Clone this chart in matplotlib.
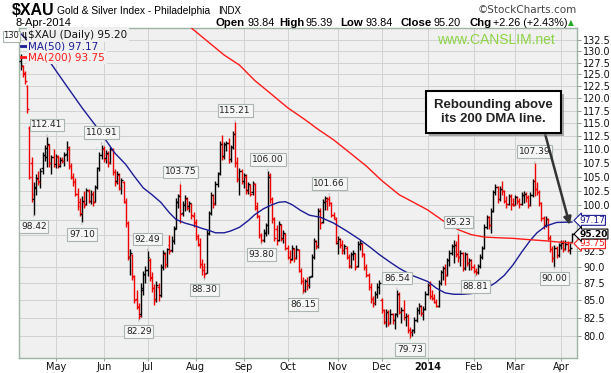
import matplotlib
matplotlib.use("Agg")
import matplotlib.pyplot as plt
import matplotlib.patheffects as pe
import numpy as np

# daily OHLC of $XAU, 9-Apr-2013 .. 8-Apr-2014 (one row per month)
opens = [
    128.0, 126.8, 125.2, 122.5, 114.0, 107.5, 101.0, 103.0, 104.5, 104.2, 106.5, 109.0, 108.5, 110.8, 107.5, 108.5,
    107.2, 108.5, 107.0, 108.2, 107.8, 109.2, 110.0, 107.0, 105.0, 104.2, 102.0, 100.5, 98.5, 100.6, 100.2, 102.4, 100.8, 102.0, 100.6, 103.2, 106.5, 109.0,
    110.0, 108.4, 109.2, 107.6, 109.8, 105.8, 104.2, 105.2, 103.0, 104.0, 100.6, 97.0, 91.5, 91.8, 88.4, 85.2, 84.0, 83.0, 86.6, 88.8,
    89.5, 91.0, 88.5, 86.8, 85.2, 87.0, 85.8, 90.0, 92.0, 90.5, 93.5, 92.6, 94.0, 96.2, 100.5, 101.8, 98.6, 100.0, 101.0, 99.8, 100.2, 98.2,
    97.2, 94.8, 93.4, 90.5, 90.0, 89.0, 95.4, 98.6, 101.8, 100.4, 103.6, 105.6, 111.0, 108.8, 110.8, 111.2, 108.2, 110.4, 113.0, 107.6, 104.6, 106.0,
    104.2, 105.0, 102.6, 103.4, 102.2, 103.6, 99.8, 98.2, 95.0, 94.2, 95.4, 96.6, 105.2, 101.0, 97.8, 96.0, 94.2, 96.6, 94.6, 95.2,
    93.0, 91.6, 91.2, 92.8, 91.4, 92.6, 89.4, 87.8, 86.6, 87.8, 87.2, 88.6, 91.6, 94.0, 93.2, 99.2, 97.2, 100.6, 100.8, 101.0, 100.4, 98.4, 97.6,
    93.8, 94.4, 93.6, 92.6, 93.0, 91.6, 90.2, 92.0, 92.0, 90.2, 93.6, 93.6, 92.0, 90.0, 88.8, 87.0, 85.2, 84.6, 86.0, 87.0,
    85.0, 83.6, 82.0, 83.4, 81.8, 83.0, 82.2, 83.0, 86.0, 83.4, 83.6, 82.6, 82.8, 80.8, 80.6, 80.8, 82.2, 83.6, 84.2, 83.2, 83.8,
    86.0, 87.2, 85.6, 85.4, 84.8, 84.2, 87.6, 89.2, 89.8, 88.8, 91.0, 92.2, 93.2, 93.4, 92.0, 91.6, 92.2, 89.8, 92.0, 90.6, 91.0,
    90.0, 89.4, 89.2, 90.2, 91.6, 93.0, 96.4, 98.0, 96.6, 99.0, 102.2, 103.2, 101.0, 102.8, 102.4, 100.8, 100.2, 101.6, 100.2,
    100.0, 101.4, 100.8, 100.2, 101.8, 102.0, 101.4, 100.0, 101.8, 104.2, 102.8, 102.2, 100.4, 97.8, 96.6, 97.6, 94.6, 92.8, 91.4, 93.0, 91.8,
    93.4, 93.8, 92.8, 93.6, 92.6, 93.84,
]
highs = [
    129.5, 127.0, 125.8, 122.8, 114.4, 108.5, 104.0, 105.5, 106.0, 106.5, 109.5, 110.8, 112.41, 111.0, 109.0, 110.0,
    109.2, 109.0, 108.5, 108.6, 109.5, 111.6, 110.6, 107.4, 105.6, 104.8, 103.0, 101.2, 101.5, 102.5, 103.0, 102.8, 102.6, 102.4, 103.5, 106.8, 109.5, 110.91,
    110.6, 109.8, 109.6, 110.5, 110.2, 106.4, 106.0, 105.6, 104.8, 104.2, 101.2, 97.4, 92.8, 92.0, 88.8, 86.6, 84.6, 87.5, 89.4, 90.2,
    92.49, 91.4, 89.2, 87.4, 87.8, 87.6, 90.5, 92.6, 92.4, 93.0, 95.1, 94.8, 96.5, 101.2, 102.0, 103.75, 100.8, 101.8, 101.4, 100.8, 100.4, 98.8,
    97.6, 95.2, 94.6, 91.2, 90.6, 95.8, 99.0, 102.2, 102.0, 104.2, 105.8, 111.6, 112.8, 111.4, 111.6, 112.2, 110.8, 113.4, 115.21, 108.6, 106.6, 106.4,
    105.6, 105.4, 104.0, 103.6, 104.2, 103.8, 100.6, 98.4, 95.4, 96.0, 97.0, 106.00, 105.6, 101.4, 98.0, 96.6, 97.4, 96.8, 95.8, 95.4,
    93.4, 92.6, 93.4, 93.0, 93.4, 92.8, 89.8, 88.4, 88.2, 88.4, 88.6, 92.0, 94.6, 94.2, 99.6, 99.6, 101.0, 101.6, 101.4, 101.66, 100.6, 98.8, 98.0,
    94.8, 94.6, 94.2, 93.6, 93.2, 92.0, 92.4, 92.6, 92.2, 94.0, 94.2, 93.8, 92.2, 90.4, 89.0, 87.6, 85.6, 86.4, 87.6, 88.0,
    85.4, 83.8, 83.8, 83.6, 83.8, 83.2, 83.2, 86.54, 86.2, 84.0, 85.0, 83.2, 83.0, 81.2, 81.0, 82.6, 84.0, 84.6, 84.4, 84.2, 86.4,
    87.6, 87.8, 86.6, 86.0, 85.2, 88.0, 89.6, 90.2, 90.4, 91.4, 92.6, 93.6, 94.2, 94.0, 95.23, 92.6, 92.4, 92.4, 92.2, 91.4, 91.2,
    90.4, 89.8, 90.4, 92.0, 93.2, 96.8, 98.4, 98.2, 99.6, 102.6, 103.6, 103.4, 103.4, 104.2, 102.6, 101.6, 102.0, 102.0, 101.2,
    101.8, 101.6, 101.2, 102.2, 102.4, 102.2, 101.8, 102.2, 104.6, 107.39, 104.0, 102.6, 100.6, 98.2, 98.2, 97.8, 95.0, 93.2, 93.4, 93.2, 93.8,
    94.2, 94.2, 94.2, 94.0, 93.8, 95.39,
]
lows = [
    126.0, 124.5, 123.0, 117.0, 104.5, 100.5, 98.42, 101.8, 103.5, 103.0, 105.5, 107.8, 106.8, 106.8, 105.5, 106.8,
    106.5, 106.6, 106.8, 107.4, 107.0, 107.8, 106.4, 104.6, 103.4, 101.5, 99.2, 98.2, 97.10, 99.6, 100.0, 100.4, 100.2, 99.8, 100.5, 102.8, 106.0, 108.2,
    107.6, 107.5, 106.8, 107.2, 105.2, 103.4, 103.6, 102.6, 102.0, 100.4, 96.4, 91.0, 88.8, 88.0, 84.6, 83.8, 82.29, 82.6, 85.8, 87.6,
    88.6, 87.8, 86.2, 84.4, 84.8, 84.9, 85.5, 89.6, 89.8, 90.0, 92.0, 92.4, 93.6, 96.0, 99.6, 97.0, 98.2, 99.0, 99.2, 98.8, 97.6, 96.4,
    94.2, 93.2, 89.8, 88.8, 88.30, 89.0, 95.0, 98.4, 99.6, 100.0, 103.2, 105.2, 108.0, 108.2, 109.6, 107.4, 107.6, 110.0, 106.8, 104.0, 101.8, 103.6,
    103.0, 102.0, 102.0, 101.6, 101.8, 99.2, 97.8, 94.6, 93.80, 93.9, 94.8, 95.2, 100.4, 97.0, 94.0, 93.5, 94.0, 94.0, 93.8, 92.6,
    91.2, 90.6, 91.0, 90.8, 91.2, 89.2, 87.4, 86.15, 86.2, 86.6, 86.8, 88.4, 91.2, 92.8, 93.0, 96.0, 97.0, 99.2, 99.2, 99.8, 98.0, 97.6, 93.6,
    92.0, 93.0, 92.0, 92.0, 91.2, 89.8, 89.8, 91.0, 89.6, 90.0, 92.6, 91.6, 89.6, 88.4, 86.6, 84.6, 84.0, 84.4, 85.4, 86.0,
    83.2, 81.6, 81.2, 81.4, 81.6, 81.6, 81.0, 82.6, 83.0, 81.8, 82.2, 81.4, 80.4, 79.73, 80.0, 80.4, 82.0, 83.0, 82.8, 82.2, 83.6,
    85.8, 85.2, 85.0, 84.6, 84.0, 84.0, 87.2, 88.0, 87.2, 88.6, 90.2, 91.8, 90.6, 91.6, 90.8, 90.2, 89.4, 89.6, 90.2, 89.6, 89.6,
    89.0, 88.81, 88.9, 89.8, 91.2, 92.8, 96.0, 96.0, 95.4, 98.8, 101.8, 100.4, 100.8, 101.8, 100.4, 99.6, 100.0, 99.2, 99.8,
    100.0, 100.2, 99.6, 100.0, 100.4, 100.6, 99.6, 99.8, 101.4, 101.6, 101.8, 99.8, 97.4, 96.0, 96.4, 94.2, 92.4, 90.8, 90.00, 91.4, 91.6,
    92.8, 92.4, 92.6, 92.4, 92.0, 93.84,
]
closes = [
    127.0, 125.0, 123.6, 117.8, 105.0, 102.0, 103.2, 104.8, 104.0, 106.0, 109.0, 110.2, 111.0, 107.5, 108.5, 107.0,
    108.8, 107.2, 108.0, 107.9, 109.0, 110.5, 107.0, 105.0, 104.0, 102.0, 99.8, 98.6, 100.8, 100.0, 102.6, 100.8, 102.0, 100.5, 103.2, 106.5, 109.0, 110.2,
    108.2, 109.4, 107.5, 110.0, 105.8, 104.0, 105.4, 103.0, 104.4, 100.8, 97.0, 91.5, 92.2, 88.6, 85.0, 84.2, 82.8, 86.8, 88.9, 89.6,
    91.5, 88.3, 86.8, 85.0, 87.3, 85.6, 90.0, 92.2, 90.4, 92.8, 92.5, 94.2, 96.0, 100.5, 101.6, 98.5, 100.2, 101.2, 99.6, 100.4, 98.4, 97.0,
    94.6, 93.6, 90.4, 89.6, 88.9, 95.2, 98.6, 101.8, 100.2, 103.6, 105.4, 111.0, 108.6, 111.0, 111.2, 108.0, 110.4, 113.0, 107.5, 104.6, 106.0, 104.0,
    105.2, 102.5, 103.6, 102.0, 103.8, 99.6, 98.2, 95.0, 94.2, 95.6, 96.6, 105.0, 101.0, 97.6, 94.6, 94.0, 96.8, 94.4, 95.4, 93.0,
    91.6, 91.0, 93.0, 91.4, 92.8, 89.6, 87.8, 86.6, 87.8, 87.2, 88.4, 91.6, 94.0, 93.2, 99.0, 97.0, 100.6, 101.2, 101.0, 100.4, 98.4, 98.0, 94.0,
    94.4, 93.4, 92.6, 93.2, 91.6, 90.2, 92.0, 92.2, 90.0, 93.6, 93.8, 92.0, 90.0, 88.8, 87.0, 85.2, 84.6, 86.0, 87.0, 87.6,
    83.6, 82.0, 83.4, 81.8, 83.0, 82.2, 83.0, 86.0, 83.4, 83.6, 82.6, 82.8, 80.8, 80.6, 80.8, 82.2, 83.6, 84.2, 83.2, 83.8, 86.0,
    87.2, 85.6, 85.4, 84.8, 84.2, 87.6, 89.2, 89.8, 88.8, 91.0, 92.2, 93.2, 93.4, 92.0, 91.6, 92.2, 89.8, 92.0, 90.6, 91.0, 90.0,
    89.4, 89.2, 90.2, 91.6, 93.0, 96.4, 98.0, 96.6, 99.0, 102.2, 103.2, 101.0, 102.8, 102.4, 100.8, 100.2, 101.6, 100.2, 100.0,
    101.4, 100.8, 100.2, 101.8, 102.0, 101.4, 100.0, 101.8, 104.2, 102.8, 102.2, 100.4, 97.8, 96.6, 97.6, 94.6, 92.8, 91.4, 93.0, 91.8, 93.4,
    93.8, 92.8, 93.6, 92.6, 92.94, 95.20,
]

# first trading day of each month (bar index) and its label
month_start = [16, 38, 58, 80, 102, 122, 145, 165, 186, 207, 226, 247]
month_names = ["May", "Jun", "Jul", "Aug", "Sep", "Oct", "Nov", "Dec", "2014", "Feb", "Mar", "Apr"]

# moving averages (bar index, value)
ma50_days = [0, 6, 13, 20, 28, 35, 43, 48, 52, 56, 60, 64, 68, 71, 75, 79, 83, 86, 89, 93, 96, 100,
             104, 107, 111, 115, 118, 121, 124, 128, 132, 137, 143, 149, 155, 160, 164, 169, 173, 179,
             186, 190, 194, 198, 202, 206, 209, 213, 217, 221, 225, 229, 233, 236, 240, 245, 252]
ma50_vals = [134.0, 131.0, 127.9, 123.2, 118.1, 114.1, 109.3, 107.2, 105.0, 103.0, 101.8, 100.5, 98.7,
             97.6, 97.0, 96.6, 96.1, 95.8, 95.4, 95.4, 95.7, 96.3, 97.4, 98.4, 99.4, 100.1, 100.5, 100.6,
             100.1, 99.1, 98.3, 97.96, 97.0, 95.7, 94.3, 93.0, 91.9, 90.7, 89.8, 88.7, 87.8, 86.8, 86.1,
             85.9, 85.9, 86.0, 86.2, 86.8, 87.6, 88.7, 90.3, 92.3, 94.2, 95.4, 96.5, 97.1, 97.17]
ma200_days = [60, 70, 78, 87, 93, 100, 107, 115, 122, 130, 136, 143, 150, 158, 165, 173, 180, 186, 193,
              200, 206, 212, 218, 225, 232, 240, 246, 252]
ma200_vals = [143.0, 138.8, 135.3, 131.6, 129.2, 127.0, 123.7, 120.7, 118.1, 115.7, 113.8, 111.8, 109.5,
              106.9, 104.3, 101.8, 100.4, 99.2, 97.4, 95.9, 95.1, 94.7, 94.6, 94.5, 94.3, 94.1, 93.9, 93.75]

# labelled swing highs / lows (bar index)
high_marks = [12, 37, 58, 73, 98, 113, 141, 172, 200, 235]
low_marks = [6, 28, 54, 84, 110, 129, 178, 208, 244]

W, H = 611, 373
BG = "#f0f0f0"
fig = plt.figure(figsize=(W / 100, H / 100), dpi=100)
fig.patch.set_facecolor("white")
ax = fig.add_axes([19 / W, 1 - 358 / H, 558 / W, 330 / H])
ax.set_facecolor(BG)


def fx(px):
    return px / W


def fy(py):
    return 1 - py / H


idx = np.arange(len(closes))
o = np.array(opens)
h = np.array(highs)
l = np.array(lows)
c = np.array(closes)
prev = np.concatenate([[c[0] - 1], c[:-1]])
cols = np.where(c < prev, "#ee0000", "#000000")

ax.set_yscale("log")
ax.set_ylim(77.05, 135.3)
ax.set_xlim(-0.8, 254.3)

# 95.0 and 97.5 sit under the last-value tags, as on the original
yt = np.arange(80, 133, 2.5)
ax.set_yticks(yt)
ax.set_yticks([], minor=True)
ax.set_yticklabels(["" if v in (95.0, 97.5) else f"{v:.1f}" for v in yt])
ax.yaxis.tick_right()
ax.set_xticks(month_start)
ax.set_xticklabels(month_names)
for t, name in zip(ax.get_xticklabels(), month_names):
    if name == "2014":
        t.set_fontweight("bold")
        t.set_fontsize(7.5)
ax.tick_params(axis="y", labelsize=7, length=3, width=0.6, color="#888888", pad=1.5, labelcolor="#111111")
ax.tick_params(axis="x", labelsize=7, length=2, width=0.6, color="#888888", pad=1, labelcolor="#111111")
ax.grid(True, color="#d2d2d2", lw=0.7)
ax.set_axisbelow(True)
for sp in ax.spines.values():
    sp.set_color("#9db3a5")
    sp.set_linewidth(1.0)

# price bars
ax.vlines(idx, l, h, colors=cols, lw=1.0, zorder=3)
ax.hlines(o, idx - 0.8, idx, colors=cols, lw=1.0, zorder=3)
ax.hlines(c, idx, idx + 0.8, colors=cols, lw=1.0, zorder=3)

ax.plot(ma50_days, ma50_vals, color="#1c1c96", lw=1.0, zorder=4)
ax.plot(ma200_days, ma200_vals, color="#ff1a1a", lw=1.0, zorder=4)

# swing labels
lab_box = dict(boxstyle="square,pad=0.2", fc="#f6f6f6", ec="#a9b5ad", lw=0.8)
for i in high_marks:
    ax.annotate(f"{highs[i]:.2f}", (i, highs[i]), xytext=(0, 8.5), textcoords="offset points",
                ha="center", va="center", fontsize=6.5, color="#222222", bbox=lab_box, zorder=6)
    ax.annotate("", (i, highs[i]), xytext=(0, 3.5), textcoords="offset points",
                arrowprops=dict(arrowstyle="-", color="#a9b5ad", lw=0.6), zorder=6)
for i in low_marks:
    ax.annotate(f"{lows[i]:.2f}", (i, lows[i]), xytext=(0, -8.5), textcoords="offset points",
                ha="center", va="center", fontsize=6.5, color="#222222", bbox=lab_box, zorder=6)
    ax.annotate("", (i, lows[i]), xytext=(0, -3.5), textcoords="offset points",
                arrowprops=dict(arrowstyle="-", color="#a9b5ad", lw=0.6), zorder=6)

# legend block
leg_bg = dict(boxstyle="square,pad=0.15", fc=BG, ec="none")
fig.text(fx(21), fy(35), "\u03c8", ha="left", va="center", fontsize=8, color="#111111", zorder=7)
fig.text(fx(28.3), fy(35), "$XAU (Daily) 95.20", ha="left", va="center", fontsize=7.5,
         color="#111111", bbox=leg_bg, zorder=7)
fig.text(fx(28.3), fy(46.3), "MA(50) 97.17", ha="left", va="center", fontsize=7.5,
         color="#1c1c96", bbox=leg_bg, zorder=7)
fig.text(fx(28.3), fy(57.3), "MA(200) 93.75", ha="left", va="center", fontsize=7.5,
         color="#ff1a1a", bbox=leg_bg, zorder=7)
fig.add_artist(plt.Line2D([fx(20.7), fx(27.3)], [fy(46.3)] * 2, color="#1c1c96", lw=2, zorder=7))
fig.add_artist(plt.Line2D([fx(20.7), fx(27.3)], [fy(57.3)] * 2, color="#ff1a1a", lw=2, zorder=7))
fig.text(fx(11.5), fy(36), "130", ha="center", va="center", fontsize=6, color="#222222",
         bbox=dict(boxstyle="square,pad=0.12", fc="white", ec="#a9b5ad", lw=0.8))

fig.text(fx(496), fy(40), "www.CANSLIM.net", ha="center", va="center", fontsize=10,
         family="Liberation Sans", color="#8cd346")

# last-value tags on the right
for val, col, wt, dy in [(93.75, "#ff1a1a", "normal", -0.5), (97.17, "#1c1c96", "normal", 1.2),
                         (95.20, "#000000", "bold", 0.0)]:
    ax.annotate(f"{val:.2f}", (1.0, val), xycoords=("axes fraction", "data"),
                xytext=(1.5, dy), textcoords="offset points", ha="left", va="center", fontsize=6.5,
                color=col, fontweight=wt, zorder=8, annotation_clip=False,
                bbox=dict(boxstyle="larrow,pad=0.05", fc="white", ec=col, lw=0.8))

# callout
ann = ax.annotate("Rebounding above\nits 200 DMA line.", xy=(251, 96.7), xycoords="data",
                  xytext=(0.8507, 0.745), textcoords="axes fraction", ha="center", va="center",
                  fontsize=9.5, fontweight="bold", family="Liberation Sans", color="#222222",
                  linespacing=1.25, zorder=9,
                  bbox=dict(boxstyle="square,pad=0.6", fc="white", ec="black", lw=1.5),
                  arrowprops=dict(arrowstyle="-|>", color="#333333", lw=1.8, mutation_scale=11,
                                  relpos=(0.913, 0.0), shrinkA=0, shrinkB=0))
ann.get_bbox_patch().set_path_effects([pe.withSimplePatchShadow(offset=(2, -2), shadow_rgbFace="#777777", alpha=0.6)])

# header lines
LS = "Liberation Sans"
fig.text(fx(12), fy(15), "$XAU", ha="left", va="baseline", family=LS, fontsize=11.5, fontweight="bold")
fig.text(fx(57.3), fy(14), "Gold & Silver Index - Philadelphia", ha="left", va="baseline", family=LS, fontsize=7.4)
fig.text(fx(218), fy(14), "INDX", ha="left", va="baseline", family=LS, fontsize=7)
fig.text(fx(16), fy(26), "8-Apr-2014", ha="left", va="baseline", family=LS, fontsize=8)
fig.text(fx(577), fy(13), "\u00a9StockCharts.com", ha="right", va="baseline", fontsize=7.5, color="#444444")
head = [("Open", 216, True), ("93.84", 247.5, False), ("High", 279.4, True), ("95.39", 306, False),
        ("Low", 340, True), ("93.84", 366, False), ("Close", 400.7, True), ("95.20", 433, False),
        ("Chg", 469, True), ("+2.26 (+2.43%)", 493, False)]
for s, xp, b in head:
    fig.text(fx(xp), fy(26), s, ha="left", va="baseline", family=LS, fontsize=8.2 if b else 7.8,
             fontweight="bold" if b else "normal")
fig.text(fx(568), fy(25), "\u25b2", ha="left", va="baseline", fontsize=5.5, color="#22aa22")

fig.savefig("out.png", dpi=100)
